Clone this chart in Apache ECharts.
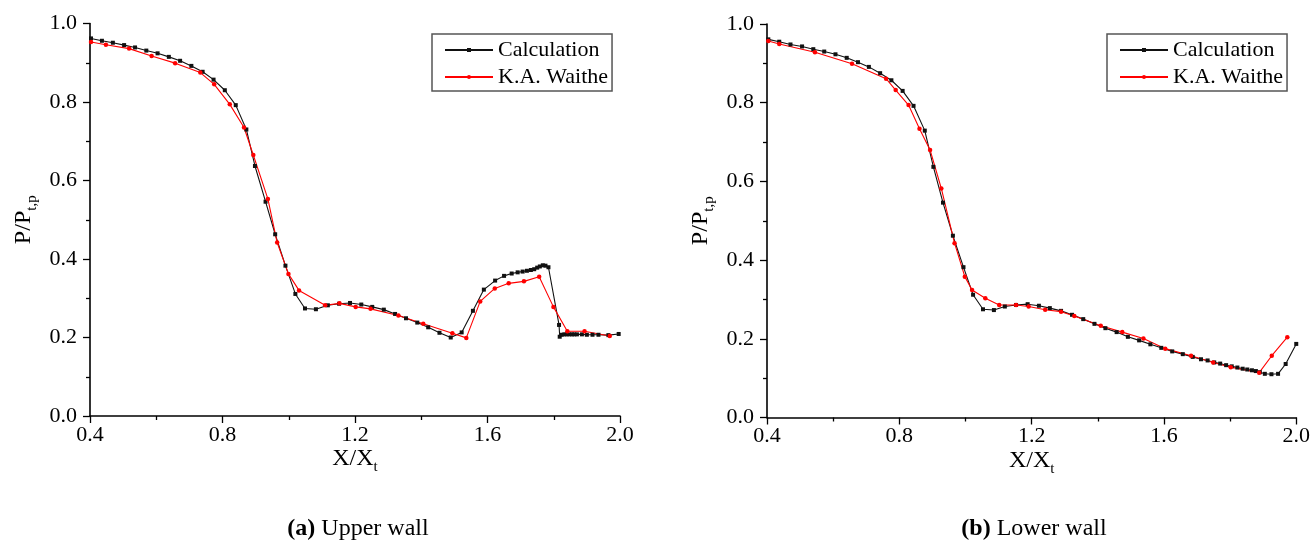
<!DOCTYPE html>
<html>
<head>
<meta charset="utf-8">
<script src="https://cdn.jsdelivr.net/npm/echarts@6/dist/echarts.min.js"></script>
<style>html,body{margin:0;padding:0;background:#fff;}#c{width:1313px;height:547px;}</style>
</head>
<body>
<div id="c"></div>
<script>
// ---- data ----
const upperCalcX = [0.403,0.436,0.469,0.503,0.536,0.570,0.604,0.638,0.672,0.706,0.740,0.773,0.807,0.840,0.872,0.898,0.930,0.959,0.990,1.020,1.049,1.082,1.118,1.152,1.185,1.219,1.252,1.287,1.321,1.354,1.388,1.421,1.455,1.489,1.522,1.556,1.589,1.623,1.650,1.673,1.691,1.706,1.719,1.731,1.741,1.750,1.758,1.767,1.775,1.784,1.816,1.818,1.824,1.832,1.839,1.847,1.855,1.862,1.870,1.885,1.900,1.917,1.935,1.965,1.996];
const upperCalcY = [0.962,0.956,0.951,0.945,0.939,0.931,0.924,0.915,0.905,0.892,0.877,0.857,0.830,0.792,0.730,0.637,0.546,0.463,0.383,0.311,0.274,0.272,0.282,0.286,0.288,0.284,0.278,0.271,0.260,0.249,0.238,0.226,0.212,0.200,0.213,0.268,0.322,0.345,0.357,0.363,0.366,0.368,0.370,0.372,0.374,0.378,0.381,0.384,0.383,0.379,0.232,0.202,0.207,0.208,0.208,0.208,0.208,0.208,0.208,0.208,0.207,0.207,0.207,0.206,0.209];
const upperExpX = [0.403,0.448,0.518,0.586,0.657,0.733,0.775,0.822,0.865,0.893,0.937,0.965,0.999,1.031,1.110,1.153,1.202,1.247,1.331,1.406,1.494,1.536,1.578,1.622,1.664,1.710,1.756,1.799,1.841,1.893,1.969];
const upperExpY = [0.953,0.946,0.936,0.917,0.899,0.875,0.845,0.794,0.735,0.665,0.553,0.442,0.362,0.320,0.282,0.287,0.278,0.273,0.256,0.235,0.211,0.199,0.292,0.325,0.338,0.343,0.355,0.278,0.216,0.216,0.204];
const lowerCalcX = [0.404,0.437,0.471,0.506,0.540,0.573,0.607,0.641,0.675,0.708,0.742,0.776,0.810,0.843,0.877,0.903,0.932,0.962,0.994,1.023,1.053,1.086,1.119,1.153,1.188,1.222,1.255,1.289,1.322,1.356,1.390,1.423,1.457,1.491,1.525,1.559,1.592,1.625,1.657,1.687,1.712,1.732,1.752,1.770,1.788,1.805,1.822,1.838,1.852,1.866,1.878,1.890,1.905,1.925,1.945,1.968,2.000];
const lowerCalcY = [0.961,0.955,0.948,0.943,0.936,0.930,0.923,0.914,0.903,0.891,0.875,0.857,0.830,0.792,0.729,0.637,0.546,0.462,0.382,0.312,0.275,0.273,0.282,0.286,0.288,0.284,0.278,0.271,0.261,0.250,0.238,0.227,0.217,0.205,0.196,0.186,0.177,0.168,0.161,0.154,0.148,0.145,0.140,0.137,0.133,0.130,0.127,0.124,0.122,0.120,0.118,0.115,0.111,0.110,0.111,0.136,0.187];
const lowerExpX = [0.404,0.437,0.545,0.657,0.760,0.789,0.828,0.861,0.893,0.927,0.967,0.998,1.020,1.060,1.102,1.153,1.191,1.241,1.289,1.329,1.409,1.474,1.538,1.604,1.682,1.749,1.802,1.888,1.926,1.973];
const lowerExpY = [0.957,0.949,0.928,0.899,0.861,0.832,0.794,0.734,0.680,0.582,0.443,0.358,0.324,0.303,0.286,0.286,0.282,0.274,0.269,0.258,0.233,0.217,0.201,0.175,0.157,0.140,0.128,0.114,0.157,0.204];
const xTicks = {min: 0.4, max: 2.0, interval: 0.4};
const yTicks = {min: 0.0, max: 1.0, interval: 0.2};
const seriesNames = ['Calculation', 'K.A. Waithe'];
const captions = [['(a)', ' Upper wall'], ['(b)', ' Lower wall']];

// ---- chart ----
const FF = 'Liberation Serif, Times New Roman, serif';
const zip = (xs, ys) => xs.map((x, i) => [x, ys[i]]);
const grids = [
  {left: 90, top: 23.5, width: 530, height: 392.5},
  {left: 767, top: 24, width: 530, height: 393.5}
];
const nameRich = {
  m: {fontFamily: FF, fontSize: 24, color: '#000', lineHeight: 32, verticalAlign: 'middle'},
  s: {fontFamily: FF, fontSize: 15, color: '#000', lineHeight: 15, verticalAlign: 'bottom'}
};
function xAxis(i) {
  return {
    gridIndex: i, type: 'value', min: xTicks.min, max: xTicks.max, interval: xTicks.interval,
    name: '{m|X/X}{s|t}', nameLocation: 'middle', nameGap: 27, nameMoveOverlap: false,
    nameTextStyle: {rich: nameRich},
    axisLine: {lineStyle: {color: '#000', width: 1.6}},
    axisTick: {length: 7, lineStyle: {color: '#000', width: 1.3}},
    minorTick: {show: true, splitNumber: 2, length: 4, lineStyle: {color: '#000', width: 1.3}},
    splitLine: {show: false},
    axisLabel: {fontFamily: FF, fontSize: 22, color: '#000', margin: 8, formatter: v => v.toFixed(1)}
  };
}
function yAxis(i) {
  return {
    gridIndex: i, type: 'value', min: yTicks.min, max: yTicks.max, interval: yTicks.interval,
    name: '{m|P/P}{s|t,p}', nameLocation: 'middle', nameGap: 50, nameRotate: 90, nameMoveOverlap: false,
    nameTextStyle: {rich: nameRich},
    axisLine: {lineStyle: {color: '#000', width: 1.6}},
    axisTick: {length: 7, lineStyle: {color: '#000', width: 1.3}},
    minorTick: {show: true, splitNumber: 2, length: 4, lineStyle: {color: '#000', width: 1.3}},
    splitLine: {show: false},
    axisLabel: {fontFamily: FF, fontSize: 22, color: '#000', margin: 13, formatter: v => v.toFixed(1)}
  };
}
function calcSeries(i, data) {
  return {name: seriesNames[0], type: 'line', xAxisIndex: i, yAxisIndex: i, data,
    symbol: 'rect', symbolSize: 4, showAllSymbol: true, animation: false,
    lineStyle: {color: '#111', width: 1.1}, itemStyle: {color: '#111'}};
}
function expSeries(i, data) {
  return {name: seriesNames[1], type: 'line', xAxisIndex: i, yAxisIndex: i, data,
    symbol: 'circle', symbolSize: 4.5, showAllSymbol: true, animation: false,
    lineStyle: {color: '#ff0000', width: 1.1}, itemStyle: {color: '#ff0000'}};
}
function legend(left) {
  return {left, top: 34, orient: 'vertical', data: seriesNames,
    borderColor: '#555', borderWidth: 1.5, padding: [5, 4, 3, 12],
    itemWidth: 48, itemHeight: 5, itemGap: 5,
    textStyle: {fontFamily: FF, fontSize: 22, color: '#000'}};
}
function caption(cx, c) {
  return {type: 'text', x: cx, y: 529, style: {
    rich: {b: {fontFamily: FF, fontSize: 24, fontWeight: 'bold', fill: '#000'},
           n: {fontFamily: FF, fontSize: 24, fill: '#000'}},
    text: '{b|' + c[0] + '}{n|' + c[1] + '}', align: 'center', verticalAlign: 'middle'}};
}
const chart = echarts.init(document.getElementById('c'), null, {renderer: 'canvas'});
chart.setOption({
  backgroundColor: '#fff',
  animation: false,
  grid: grids,
  xAxis: [xAxis(0), xAxis(1)],
  yAxis: [yAxis(0), yAxis(1)],
  legend: [legend(432), legend(1107)],
  series: [
    calcSeries(0, zip(upperCalcX, upperCalcY)),
    expSeries(0, zip(upperExpX, upperExpY)),
    calcSeries(1, zip(lowerCalcX, lowerCalcY)),
    expSeries(1, zip(lowerExpX, lowerExpY))
  ],
  graphic: [caption(358, captions[0]), caption(1034, captions[1])]
});
</script>
</body>
</html>
